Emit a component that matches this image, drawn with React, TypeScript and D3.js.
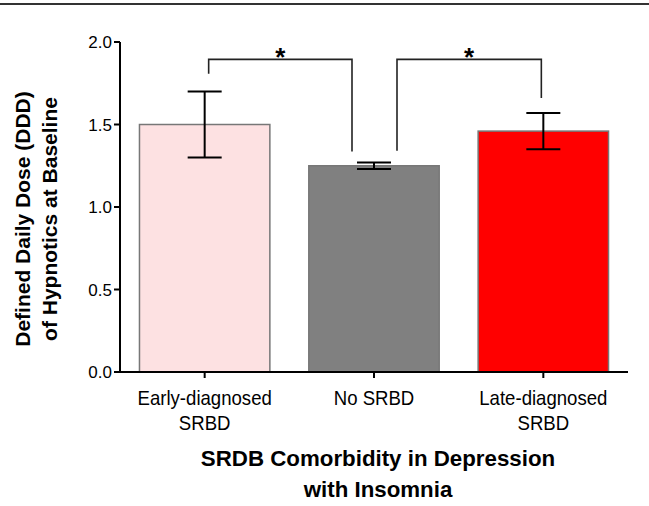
import React from "react";
import * as d3 from "d3";

const categories = ["Early-diagnosed\nSRBD", "No SRBD", "Late-diagnosed\nSRBD"];
const means = [1.5, 1.25, 1.46];
const errors = [0.2, 0.02, 0.11];
const barColors = ["#fde1e2", "#808080", "#ff0000"];
const yTicks = [0, 0.5, 1.0, 1.5, 2.0];
// significance brackets: level of the bar and of each drop end
const brackets = [
  { from: 0, to: 1, top: 1.895, leftEnd: 1.808, rightEnd: 1.337 },
  { from: 1, to: 2, top: 1.895, leftEnd: 1.341, rightEnd: 1.66 },
];
const yTitle = ["Defined Daily Dose (DDD)", "of Hypnotics at Baseline"];
const xTitle = ["SRDB Comorbidity in Depression", "with Insomnia"];

export default function App() {
  const W = 649, H = 506;
  const x0 = 120, x1 = 628, yBase = 372;
  const x = d3.scaleBand<number>().domain([0, 1, 2]).range([x0, x1]).paddingInner(0.23).paddingOuter(0.115);
  const y = d3.scaleLinear().domain([0, 2]).range([yBase, 42]);
  const bw = x.bandwidth();
  const cx = (i: number) => (x(i) as number) + bw / 2;
  const font = "'Liberation Sans', Arial, sans-serif";
  const bracketOffsets = [[4, -22], [23, -2]];

  return (
    <svg width={W} height={H} style={{ position: "absolute", left: 0, top: 0, background: "#fff" }} fontFamily={font}>
      <rect x={0} y={0} width={W} height={H} fill="#fff" />
      <line x1={0} x2={W} y1={4} y2={4} stroke="#333" strokeWidth={2} />

      {means.map((m, i) => (
        <rect key={"b" + i} x={x(i)} y={y(m)} width={bw} height={yBase - y(m)} fill={barColors[i]} stroke="#777" strokeWidth={1.5} />
      ))}

      {means.map((m, i) => (
        <g key={"e" + i} stroke="#000" strokeWidth={2}>
          <line x1={cx(i)} x2={cx(i)} y1={y(m + errors[i])} y2={y(m - errors[i])} />
          <line x1={cx(i) - 17} x2={cx(i) + 17} y1={y(m + errors[i])} y2={y(m + errors[i])} />
          <line x1={cx(i) - 17} x2={cx(i) + 17} y1={y(m - errors[i])} y2={y(m - errors[i])} />
        </g>
      ))}

      {brackets.map((b, k) => {
        const xa = cx(b.from) + bracketOffsets[k][0];
        const xb = cx(b.to) + bracketOffsets[k][1];
        const path = d3.path();
        path.moveTo(xa, y(b.leftEnd));
        path.lineTo(xa, y(b.top));
        path.lineTo(xb, y(b.top));
        path.lineTo(xb, y(b.rightEnd));
        return (
          <g key={"s" + k}>
            <path d={path.toString()} fill="none" stroke="#222" strokeWidth={1.6} />
            <text x={(xa + xb) / 2} y={y(b.top) + 7} textAnchor="middle" fontSize={26} fontWeight="bold">*</text>
          </g>
        );
      })}

      {/* y axis */}
      <line x1={x0} x2={x0} y1={y(2)} y2={yBase} stroke="#000" strokeWidth={2} />
      {yTicks.map((t) => (
        <g key={"yt" + t}>
          <line x1={x0 - 6} x2={x0} y1={y(t)} y2={y(t)} stroke="#000" strokeWidth={2} />
          <text x={x0 - 8} y={y(t)} dy="0.36em" textAnchor="end" fontSize={17}>{t.toFixed(1)}</text>
        </g>
      ))}

      {/* x axis */}
      <line x1={x0 - 1} x2={x1} y1={yBase} y2={yBase} stroke="#000" strokeWidth={2} />
      {categories.map((c, i) => (
        <g key={"xt" + i}>
          <line x1={cx(i)} x2={cx(i)} y1={yBase} y2={yBase + 6} stroke="#000" strokeWidth={2} />
          {c.split("\n").map((ln, j) => (
            <text key={j} transform={`translate(${cx(i)},${405 + j * 25}) scale(0.93,1)`} textAnchor="middle" fontSize={20}>{ln}</text>
          ))}
        </g>
      ))}

      {/* titles */}
      {xTitle.map((t, j) => (
        <text key={"xT" + j} x={378} y={466 + j * 31} textAnchor="middle" fontSize={22.3} fontWeight="bold">{t}</text>
      ))}
      {yTitle.map((t, j) => (
        <text key={"yT" + j} transform={`translate(${30 + j * 26.5},219) rotate(-90)`} textAnchor="middle" fontSize={21} fontWeight="bold">{t}</text>
      ))}
    </svg>
  );
}
